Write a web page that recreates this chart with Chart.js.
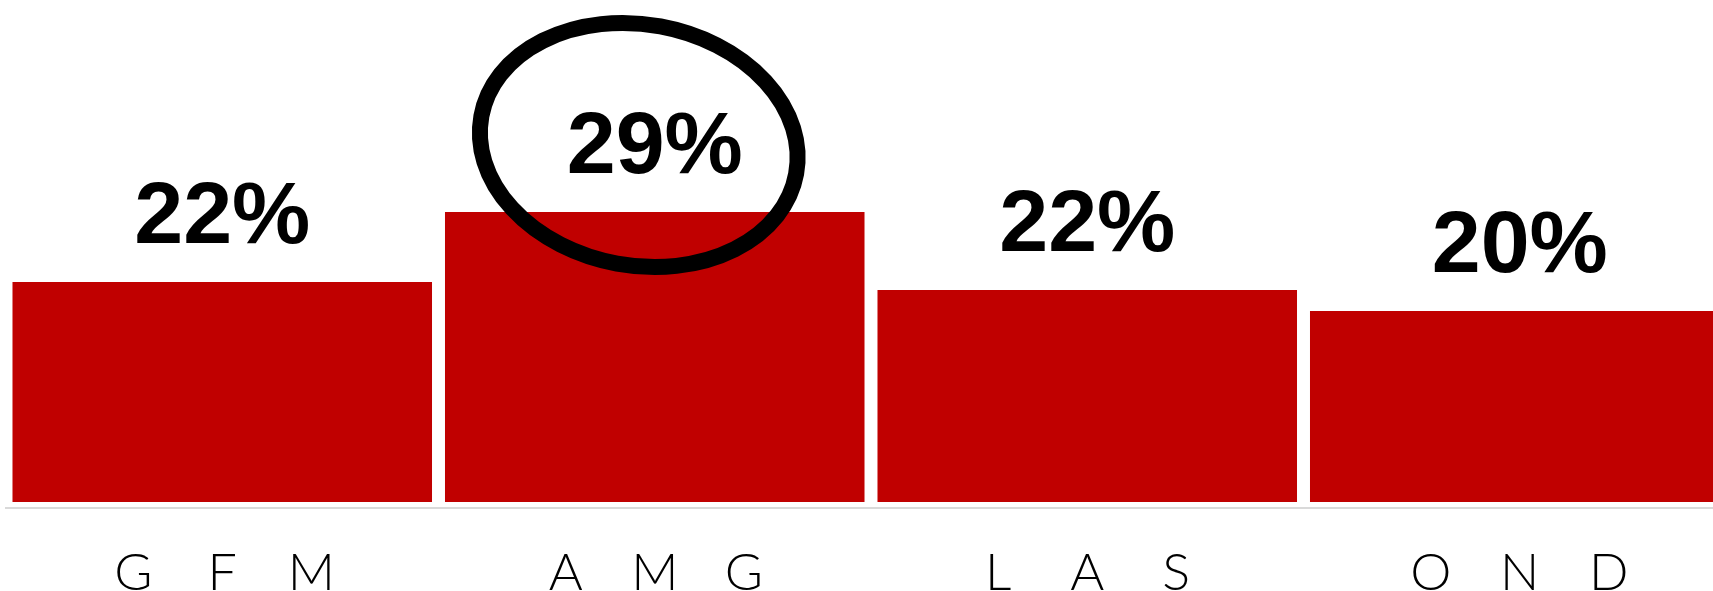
<!DOCTYPE html>
<html><head><meta charset="utf-8">
<script src="https://cdn.jsdelivr.net/npm/chart.js@4/dist/chart.umd.min.js"></script>
<style>
html,body{margin:0;padding:0;overflow:hidden;background:#fff;width:1713px;height:591px}
#wrap{position:absolute;left:0;top:0;width:1742px;height:591px}
</style></head><body>
<div id="wrap"><canvas id="c" width="1742" height="591"></canvas></div>
<script>
const categories = ["GFM", "AMG", "LAS", "OND"];
const values = [22.0, 29.0, 21.2, 19.1];
const valueLabels = ["22%", "29%", "22%", "20%"];
const highlightIndex = 1;

const overlay = {
  id: 'overlay',
  afterDatasetsDraw(chart) {
    const ctx = chart.ctx, xs = chart.scales.x;
    const meta = chart.getDatasetMeta(0);
    ctx.save();
    const hb = meta.data[highlightIndex];
    ctx.beginPath();
    ctx.ellipse(hb.x - 16, hb.y - 67, 160, 120.5, 10.4 * Math.PI / 180, 0, 2 * Math.PI);
    ctx.lineWidth = 16; ctx.strokeStyle = '#000'; ctx.stroke();
    ctx.fillStyle = '#000';
    ctx.textAlign = 'center'; ctx.textBaseline = 'alphabetic';
    ctx.font = 'bold 88px "Liberation Sans", Arial, sans-serif';
    meta.data.forEach((b, i) => ctx.fillText(valueLabels[i], b.x, b.y - 39));
    ctx.font = '300 52px Lato, "Open Sans", Roboto, sans-serif';
    categories.forEach((c, i) => {
      const cx = xs.getPixelForValue(i);
      [...c].forEach((ch, j) => ctx.fillText(ch, cx + (j - 1) * 89, 590));
    });
    ctx.restore();
  }
};

new Chart(document.getElementById('c'), {
  type: 'bar',
  data: {
    labels: categories,
    datasets: [{
      data: values,
      backgroundColor: '#C00000',
      borderWidth: 0,
      categoryPercentage: 0.97,
      barPercentage: 1
    }]
  },
  options: {
    responsive: false,
    animation: false,
    devicePixelRatio: 1,
    layout: { padding: { left: 6, right: 6, top: 2, bottom: 0 } },
    plugins: { legend: { display: false }, tooltip: { enabled: false } },
    scales: {
      x: {
        grid: { display: false },
        border: { display: true, color: '#d9d9d9', width: 2 },
        ticks: { display: false },
        afterFit(scale) { scale.height = 83; }
      },
      y: {
        display: false,
        min: -0.6,
        max: 50
      }
    }
  },
  plugins: [overlay]
});
</script>
</body></html>
